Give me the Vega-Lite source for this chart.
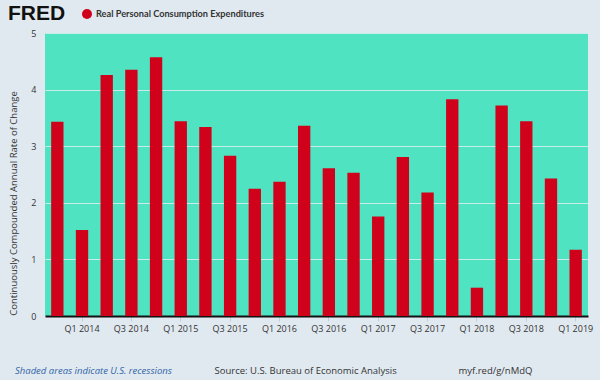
{
  "$schema": "https://vega.github.io/schema/vega-lite/v6.json",
  "width": 543,
  "height": 283,
  "autosize": {"type": "none"},
  "padding": {"left": 45, "top": 33, "right": 12, "bottom": 64},
  "background": "#e1e9f0",
  "config": {
    "view": {"fill": "#50e3c2", "stroke": null},
    "font": "Open Sans"
  },
  "title": {
    "text": "Shaded areas indicate U.S. recessions",
    "orient": "bottom",
    "anchor": "start",
    "frame": "group",
    "dx": -30,
    "offset": -9,
    "fontSize": 9.5,
    "fontStyle": "italic",
    "fontWeight": "normal",
    "color": "#2f64a6"
  },
  "data": {
    "values": [
      {"q": "Q4 2013", "v": 3.43},
      {"q": "Q1 2014", "v": 1.52},
      {"q": "Q2 2014", "v": 4.26},
      {"q": "Q3 2014", "v": 4.35},
      {"q": "Q4 2014", "v": 4.57},
      {"q": "Q1 2015", "v": 3.44},
      {"q": "Q2 2015", "v": 3.34},
      {"q": "Q3 2015", "v": 2.83},
      {"q": "Q4 2015", "v": 2.25},
      {"q": "Q1 2016", "v": 2.37},
      {"q": "Q2 2016", "v": 3.36},
      {"q": "Q3 2016", "v": 2.61},
      {"q": "Q4 2016", "v": 2.53},
      {"q": "Q1 2017", "v": 1.76},
      {"q": "Q2 2017", "v": 2.81},
      {"q": "Q3 2017", "v": 2.18},
      {"q": "Q4 2017", "v": 3.83},
      {"q": "Q1 2018", "v": 0.5},
      {"q": "Q2 2018", "v": 3.72},
      {"q": "Q3 2018", "v": 3.44},
      {"q": "Q4 2018", "v": 2.43},
      {"q": "Q1 2019", "v": 1.17}
    ]
  },
  "mark": {"type": "bar"},
  "encoding": {
    "x": {
      "field": "q",
      "type": "ordinal",
      "sort": null,
      "scale": {"paddingInner": 0.5, "paddingOuter": 0.25},
      "axis": {
        "values": ["Q1 2014", "Q3 2014", "Q1 2015", "Q3 2015", "Q1 2016", "Q3 2016", "Q1 2017", "Q3 2017", "Q1 2018", "Q3 2018", "Q1 2019"],
        "labelAngle": 0,
        "labelFontSize": 9,
        "labelColor": "#333333",
        "labelPadding": 3,
        "ticks": true,
        "tickSize": 5,
        "tickColor": "#c4ccd4",
        "domain": true,
        "domainColor": "#111111",
        "domainWidth": 2,
        "title": "Source: U.S. Bureau of Economic Analysis\u00a0\u00a0\u00a0\u00a0\u00a0\u00a0\u00a0\u00a0\u00a0\u00a0\u00a0\u00a0\u00a0\u00a0\u00a0\u00a0\u00a0\u00a0\u00a0\u00a0\u00a0\u00a0\u00a0\u00a0\u00a0myf.red/g/nMdQ",
        "titleFontSize": 9.5,
        "titleFontWeight": "normal",
        "titleColor": "#333333",
        "titleAlign": "left",
        "titleBaseline": "middle",
        "titleX": 169,
        "titleY": 54
      }
    },
    "y": {
      "field": "v",
      "type": "quantitative",
      "scale": {"domain": [0, 5], "nice": false},
      "axis": {
        "values": [0, 1, 2, 3, 4, 5],
        "ticks": false,
        "domain": false,
        "labelFontSize": 9,
        "labelColor": "#333333",
        "labelPadding": 9,
        "gridColor": "#e6eef0",
        "gridOpacity": 0.8,
        "gridWidth": 1,
        "title": "Continuously Compounded Annual Rate of Change",
        "titleFontSize": 9.5,
        "titleFontWeight": "normal",
        "titleColor": "#333333",
        "titleX": -32,
        "titleY": 170,
        "titleAlign": "center",
        "titleBaseline": "middle"
      }
    },
    "color": {
      "datum": "Real Personal Consumption Expenditures",
      "scale": {"range": ["#d0021b"]},
      "legend": {
        "orient": "none",
        "legendX": -37,
        "legendY": -24,
        "direction": "horizontal",
        "title": "FRED",
        "titleOrient": "left",
        "titleFont": "Liberation Sans",
        "titleFontSize": 21,
        "titleFontWeight": 900,
        "titleColor": "#111111",
        "titlePadding": 16,
        "titleBaseline": "middle",
        "symbolType": "circle",
        "symbolSize": 100,
        "symbolStrokeWidth": 0,
        "labelFont": "Lato",
        "labelFontSize": 9.2,
        "labelFontWeight": "bold",
        "labelColor": "#333333",
        "labelLimit": 400
      }
    }
  }
}
